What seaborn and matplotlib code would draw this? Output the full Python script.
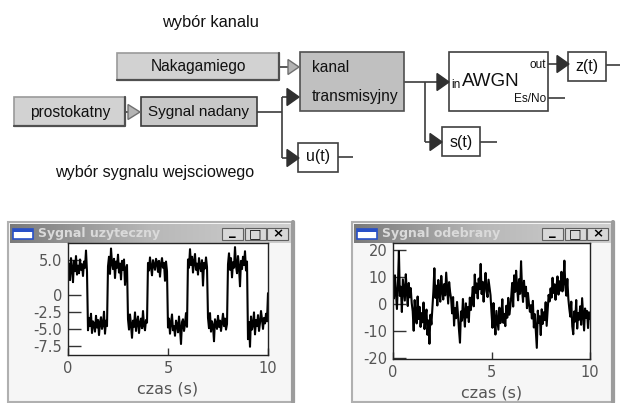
import numpy as np
import matplotlib
matplotlib.use('Agg')
import matplotlib.pyplot as plt
from matplotlib.patches import Rectangle, Polygon
from matplotlib.colors import LinearSegmentedColormap
import seaborn as sns

# useful signal (square wave + noise), one value every 0.05 s
useful = [3.2, 4.5, 2.1, 5.3, 3.8, 1.8, 4.9, 3.4, 5.6, 2.9, 4.2, 3.1, 5.1, 3.6, 4.4, 2.7, 4.8, 3.9, 6.4, 3.3,
          -5.2, -3.4, -4.6, -2.8, -5.6, -3.9, -4.3, -5.4, -3.1, -4.8, -3.7, -5.9, -4.1, -3.3, -5.0, -4.4, -2.5, -5.7, -3.8, -4.6,
          4.1, 5.5, 3.0, 6.7, 4.6, 3.7, 5.2, 2.4, 4.8, 3.9, 5.8, 3.2, 4.5, 2.2, 4.9, 3.6, 5.1, 1.4, 3.8, 4.3,
          -3.6, -5.1, -2.9, -4.4, -6.3, -3.8, -4.7, -2.6, -5.3, -4.0, -3.2, -5.6, -4.2, -3.5, -4.9, -2.4, -4.5, -5.2, -3.7, -4.1,
          4.6, 3.5, 5.4, 4.0, 2.8, 5.0, 4.3, 3.6, 5.2, 4.7, 3.3, 4.9, 2.6, 4.4, 5.3, 3.9, 4.6, 2.0, 4.8, 3.4,
          -4.8, -3.5, -5.7, -4.1, -2.9, -5.2, -4.6, -6.0, -3.8, -4.4, -5.5, -3.2, -4.9, -7.2, -4.0, -3.6, -5.3, -4.3, -2.7, -4.7,
          5.1, 3.9, 6.6, 4.3, 5.5, 3.2, 4.8, 5.9, 3.6, 4.5, 2.9, 5.3, 4.1, 3.4, 5.0, 1.3, 4.6, 3.8, 5.4, 4.0,
          -3.4, -4.9, -2.7, -5.4, -3.9, -4.5, -6.8, -3.6, -4.2, -5.0, -3.1, -4.7, -3.8, -5.3, -4.0, -2.8, -4.6, -3.5, -5.1, -4.3,
          4.4, 6.0, 3.6, 5.3, 2.5, 4.7, 3.9, 6.9, 4.2, 3.1, 5.6, 4.0, 1.2, 4.9, 3.7, 5.5, 4.3, 6.3, 3.5, 4.8,
          -6.5, -4.0, -7.6, -3.2, -5.1, -4.4, -2.6, -5.8, -3.7, -4.6, -3.0, -5.3, -4.1, -2.4, -3.6, -5.0, -3.4, -4.2, -2.8, -3.9, 0.2]

# received signal after the channel and AWGN
received = [8.5, 2.1, 10.6, 4.3, -1.8, 7.2, 19.5, 3.0, 6.4, -2.9, 9.1, 5.2, 1.3, 11.0, 4.6, -0.7, 7.8, 2.5, 5.9, 0.4,
            -2.6, -9.8, 1.5, -4.2, -7.1, 2.8, -5.5, -1.0, -8.4, -3.3, -6.7, 0.6, -9.2, -4.8, -2.0, -11.3, -6.0, -14.6, -3.9, -7.5,
            -1.2, 4.7, 13.2, 2.3, 6.8, -0.5, 8.9, 3.6, 0.9, 10.4, 5.1, 1.7, 7.4, 3.2, 11.6, 6.0, 0.2, 8.1, 4.4, 2.0,
            -3.4, 2.6, -7.9, -1.5, -5.2, 0.8, -4.0, -9.6, -14.2, -2.7, -6.1, 1.9, -3.8, -8.3, 0.3, -4.9, -1.1, -6.6, 2.4, -2.2,
            1.6, 6.3, -0.8, 10.9, 4.2, 7.6, 2.1, 9.4, 5.5, 14.8, 3.7, 8.2, 0.9, 6.9, 11.5, 4.8, 2.6, 9.0, 6.1, 3.3,
            -3.1, -8.7, 0.4, -6.2, -11.2, -2.5, -5.8, -9.4, -1.3, -7.0, -4.1, 1.8, -6.9, -3.6, -8.1, -0.6, -5.0, 2.3, -3.9, -1.4,
            2.7, 7.8, -0.9, 10.6, 4.5, 12.3, 6.1, 1.4, 9.2, 3.8, 15.8, 5.7, 0.8, 8.6, 2.9, 6.4, -1.5, 4.1, 0.2, -2.8,
            -0.4, -5.3, 1.2, -8.6, -3.7, -9.9, -16.1, -2.4, -6.8, -4.5, -11.4, -1.9, -7.3, -3.0, -5.9, 0.7, -8.0, -2.2, 3.4, 1.0,
            5.8, 2.4, 9.7, 4.1, 7.3, 1.6, 6.6, 10.2, 3.5, 8.4, 5.0, 11.9, 4.7, 7.9, 16.0, 6.2, 3.1, 9.3, 2.0, -1.7,
            -4.6, 0.9, -8.2, -11.1, -2.7, -6.4, 1.5, -9.0, -3.3, -5.7, -0.8, -7.6, 2.2, -4.0, -9.7, -1.6, -5.1, -2.5, -8.8, -3.0, -5.4]

t = np.linspace(0, 10, len(useful))

useful_ticks = [5.0, 0, -2.5, -5.0, -7.5]
useful_labels = ['5.0', '0', '-2.5', '-5.0', '-7.5']
received_ticks = [20, 10, 0, -10, -20]
received_labels = ['20', '10', '0', '-10', '-20']
x_ticks = [0, 5, 10]

sns.set_theme(style='white')
plt.rcParams['font.family'] = ['DejaVu Sans']
narrow = ['Liberation Sans', 'DejaVu Sans']

W, H = 620, 403
fig = plt.figure(figsize=(6.2, 4.03), dpi=100)
fig.patch.set_facecolor('white')

# background axes in pixel coordinates for the block diagram and window frames
bg = fig.add_axes([0, 0, 1, 1])
bg.set_xlim(0, W)
bg.set_ylim(H, 0)
bg.axis('off')

LINE = '#3c3c3c'


def box(x0, y0, x1, y1, fc, ec='#404040', lw=1.2, shadow=False):
    bg.add_patch(Rectangle((x0, y0), x1 - x0, y1 - y0, facecolor=fc, edgecolor=ec, lw=lw, zorder=2))
    if shadow:
        bg.plot([x0, x1, x1], [y1, y1, y0], color='#505050', lw=1.6, zorder=3)


def line(xs, ys):
    bg.plot(xs, ys, color=LINE, lw=1.2, zorder=1, solid_capstyle='butt')


def tri(x, y, filled=True, w=12, h=17):
    if filled:
        fc, ec = '#303030', '#303030'
    else:
        fc, ec = '#b4b4b4', '#707070'
    bg.add_patch(Polygon([(x, y - h / 2), (x + w, y), (x, y + h / 2)], closed=True,
                         facecolor=fc, edgecolor=ec, lw=1, zorder=3))


def label(x, y, s, size=11.5, ha='center'):
    bg.text(x, y, s, fontsize=size, ha=ha, va='center', family=narrow, color='#111111', zorder=4)


# block diagram
label(210, 23, 'wybór kanalu', 11.8)
label(155, 173, 'wybór sygnalu wejsciowego', 11.6)

box(117, 53, 279, 80, '#d2d2d2', ec='#9a9a9a', shadow=True)
label(198, 67, 'Nakagamiego', 11.2)
line([279, 290], [67, 67])
tri(288, 67, filled=False, w=11, h=15)

box(14, 97, 125, 126, '#d2d2d2', ec='#9a9a9a', shadow=True)
label(70, 112, 'prostokatny', 11.2)
line([125, 129], [112, 112])
tri(128, 112, filled=False, w=12, h=15)

box(141, 97, 257, 126, '#c8c8c8', ec='#3c3c3c')
label(199, 112, 'Sygnal nadany', 11)

box(300, 52, 404, 111, '#c0c0c0', ec='#505050')
label(312, 68, 'kanal', 11.2, ha='left')
label(312, 96, 'transmisyjny', 11.2, ha='left')

line([257, 282], [112, 112])
line([282, 282], [97, 158])
line([282, 288], [97, 97])
line([282, 288], [158, 158])
tri(287, 97)
tri(287, 158)
box(298, 143, 338, 172, 'white')
label(318, 157, 'u(t)')
line([338, 353], [157, 157])

line([404, 438], [82, 82])
tri(437, 82)
box(449, 52, 548, 111, 'white')
label(451, 85, 'in', 8.5, ha='left')
label(462, 82, 'AWGN', 13.5, ha='left')
label(546, 65, 'out', 8.5, ha='right')
label(546, 99, 'Es/No', 8.5, ha='right')

line([425, 425], [82, 142])
line([425, 431], [142, 142])
tri(430, 142)
box(442, 127, 480, 156, 'white')
label(461, 142, 's(t)')
line([480, 497], [142, 142])

line([548, 558], [64, 64])
tri(557, 64)
box(568, 52, 606, 81, 'white')
label(587, 66, 'z(t)')
line([606, 620], [65, 65])
line([548, 565], [98, 98])

# scope windows
title_cmap = LinearSegmentedColormap.from_list('title', ['#7a7a7a', '#b8b8b8', '#cfcfcf'])
grad = np.linspace(0, 1, 256).reshape(1, -1)


def window(x0, x1, title):
    y0, y1 = 222, 402
    bg.add_patch(Rectangle((x0, y0), x1 - x0, y1 - y0, facecolor='#f6f6f6', edgecolor='#b0b0b0', lw=1.5, zorder=1))
    bg.plot([x1 - 1, x1 - 1], [y0, y1], color='#9c9c9c', lw=3, zorder=2)
    bg.imshow(grad, cmap=title_cmap, extent=(x0 + 2, x1 - 3, 243, 224), aspect='auto', zorder=2)
    bg.add_patch(Rectangle((x0 + 5, 229), 20, 10, facecolor='white', edgecolor='#2850c8', lw=1.2, zorder=3))
    bg.add_patch(Rectangle((x0 + 5, 229), 20, 2.5, facecolor='#2850c8', edgecolor='none', zorder=3))
    bg.text(x0 + 30, 233.5, title, fontsize=9, fontweight='bold', color='#dadada', ha='left', va='center', zorder=4)
    bx = x1 - 72
    for i, glyph in enumerate(['_', '□', '×']):
        bg.add_patch(Rectangle((bx + i * 22.5, 228), 21, 11.5, facecolor='#d8d8d8', edgecolor='#606060', lw=0.8, zorder=3))
        bg.text(bx + i * 22.5 + 10.5, 233.5 if glyph != '_' else 231, glyph, fontsize=9.5, fontweight='bold',
                color='black', ha='center', va='center', zorder=4)


window(8, 294, 'Sygnal uzyteczny')
window(352, 614, 'Sygnal odebrany')
bg.set_xlim(0, W)
bg.set_ylim(H, 0)


def scope_axes(px0, py0, px1, py1):
    return fig.add_axes([px0 / W, (H - py1) / H, (px1 - px0) / W, (py1 - py0) / H])


ax1 = scope_axes(68, 243, 268, 355)
ax2 = scope_axes(393, 243, 590, 359)

sns.lineplot(x=t, y=useful, ax=ax1, color='black', linewidth=1.5)
sns.lineplot(x=t, y=received, ax=ax2, color='black', linewidth=1.5)

for ax, ticks, labels, lim in [(ax1, useful_ticks, useful_labels, (-8.8, 7.5)),
                               (ax2, received_ticks, received_labels, (-20.2, 22.5))]:
    ax.set_facecolor('white')
    ax.set_xlim(0, 10)
    ax.set_ylim(*lim)
    ax.set_yticks(ticks)
    ax.set_yticklabels(labels)
    ax.set_xticks(x_ticks)
    ax.set_xticklabels([str(v) for v in x_ticks])
    ax.tick_params(axis='y', direction='in', length=9, width=1, colors='#333333', labelcolor='#555555',
                   labelsize=10.5, pad=4, left=True)
    ax.tick_params(axis='x', direction='in', length=5, width=1, colors='#333333', labelcolor='#555555',
                   labelsize=10.5, pad=4, bottom=True)
    ax.set_xlabel('czas (s)', fontsize=11.5, color='#555555', labelpad=4)
    ax.set_ylabel('')
    for s in ax.spines.values():
        s.set_color('#222222')
        s.set_linewidth(1.0)

fig.savefig('out.png', dpi=100, facecolor='white')
